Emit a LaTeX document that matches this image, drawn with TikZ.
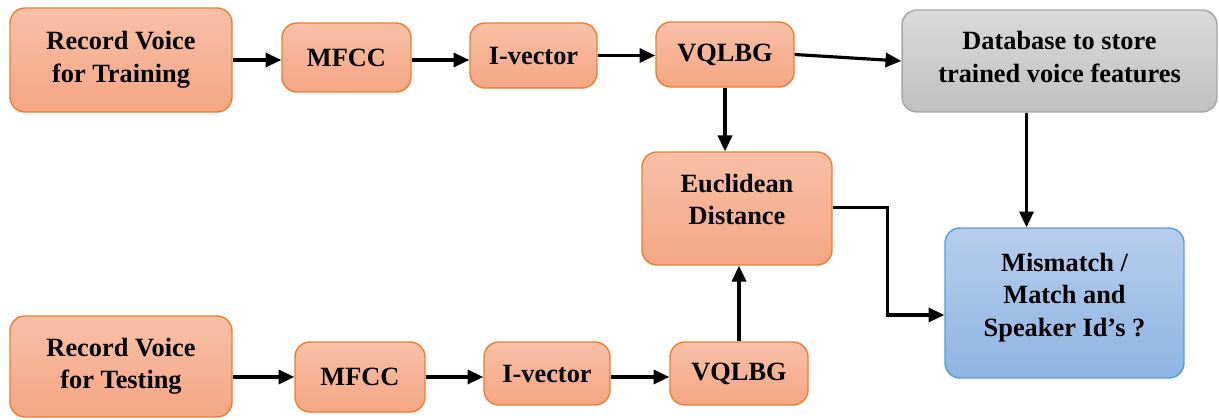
\documentclass[tikz,border=0pt]{standalone}
\usepackage{fontspec}
\setmainfont{Liberation Serif}
\usetikzlibrary{arrows.meta}
\definecolor{orfill1}{RGB}{248,192,166}
\definecolor{orfill2}{RGB}{244,166,131}
\definecolor{ordraw}{RGB}{237,125,49}
\definecolor{gyfill1}{RGB}{218,218,218}
\definecolor{gyfill2}{RGB}{192,192,192}
\definecolor{gydraw}{RGB}{166,166,166}
\definecolor{blfill1}{RGB}{182,206,235}
\definecolor{blfill2}{RGB}{143,180,227}
\definecolor{bldraw}{RGB}{91,155,213}

\begin{document}
\begin{tikzpicture}[x=0.02cm,y=-0.02cm,>={Triangle[length=9pt,width=8pt]},
  blk/.style={rounded corners=0.3cm,line width=0.8pt,draw=ordraw,top color=orfill1,bottom color=orfill2,
    align=center,font=\fontsize{15}{18.5}\selectfont\bfseries},
  dbblk/.style={blk,draw=gydraw,top color=gyfill1,bottom color=gyfill2},
  outblk/.style={blk,draw=bldraw,top color=blfill1,bottom color=blfill2},
  flow/.style={->,line width=1.8pt}]
\useasboundingbox (0,0) rectangle (1219,419);
% training branch
\node[blk,minimum width=4.44cm,minimum height=2.08cm] (rtrain) at (121,60) {Record Voice\\for Training};
\node[blk,minimum width=2.58cm,minimum height=1.38cm] (mfcc1) at (346.5,57.5) {MFCC};
\node[blk,minimum width=2.54cm,minimum height=1.3cm] (ivec1) at (533.5,55.5) {I-vector};
\node[blk,minimum width=2.76cm,minimum height=1.3cm] (vq1) at (725,54.5) {VQLBG};
\node[dbblk,minimum width=6.3cm,minimum height=2.04cm] (db) at (1059.5,61) {Database to store\\trained voice features\\[-0.48cm]};
% matching
\node[blk,minimum width=3.8cm,minimum height=2.26cm] (eucl) at (737,208.5) {Euclidean\\Distance\\[-0.28cm]};
\node[outblk,minimum width=4.78cm,minimum height=3cm] (match) at (1064.5,303) {Mismatch /\\Match and\\Speaker Id's ?\\[-0.32cm]};
% testing branch
\node[blk,minimum width=4.44cm,minimum height=2.02cm] (rtest) at (121,366.5) {Record Voice\\for Testing};
\node[blk,minimum width=2.6cm,minimum height=1.4cm] (mfcc2) at (360,377) {MFCC};
\node[blk,minimum width=2.52cm,minimum height=1.26cm] (ivec2) at (547,373.5) {I-vector};
\node[blk,minimum width=2.76cm,minimum height=1.26cm] (vq2) at (739,373.5) {VQLBG};

\draw[flow] (rtrain) -- (rtrain -| mfcc1.west);
\draw[flow] (mfcc1.east |- rtrain) -- (rtrain -| ivec1.west);
\draw[flow] (ivec1) -- (ivec1 -| vq1.west);
\draw[flow] (vq1.east) -- (db.west);
\draw[flow] (vq1.south) -- (vq1.south |- eucl.north);
\draw[flow] ([xshift=-0.66cm]db.south) -- ([xshift=-0.66cm]db.south |- match.north);
\draw[flow] ([yshift=0.02cm]eucl.east) -- ++(55,0) |- ([yshift=-0.24cm]match.west);
\draw[flow] (rtest.east |- mfcc2) -- (mfcc2);
\draw[flow] (mfcc2) -- (mfcc2 -| ivec2.west);
\draw[flow] (ivec2.east |- mfcc2) -- (mfcc2 -| vq2.west);
\draw[flow] (vq2.north) -- (vq2.north |- eucl.south);
\end{tikzpicture}
\end{document}
